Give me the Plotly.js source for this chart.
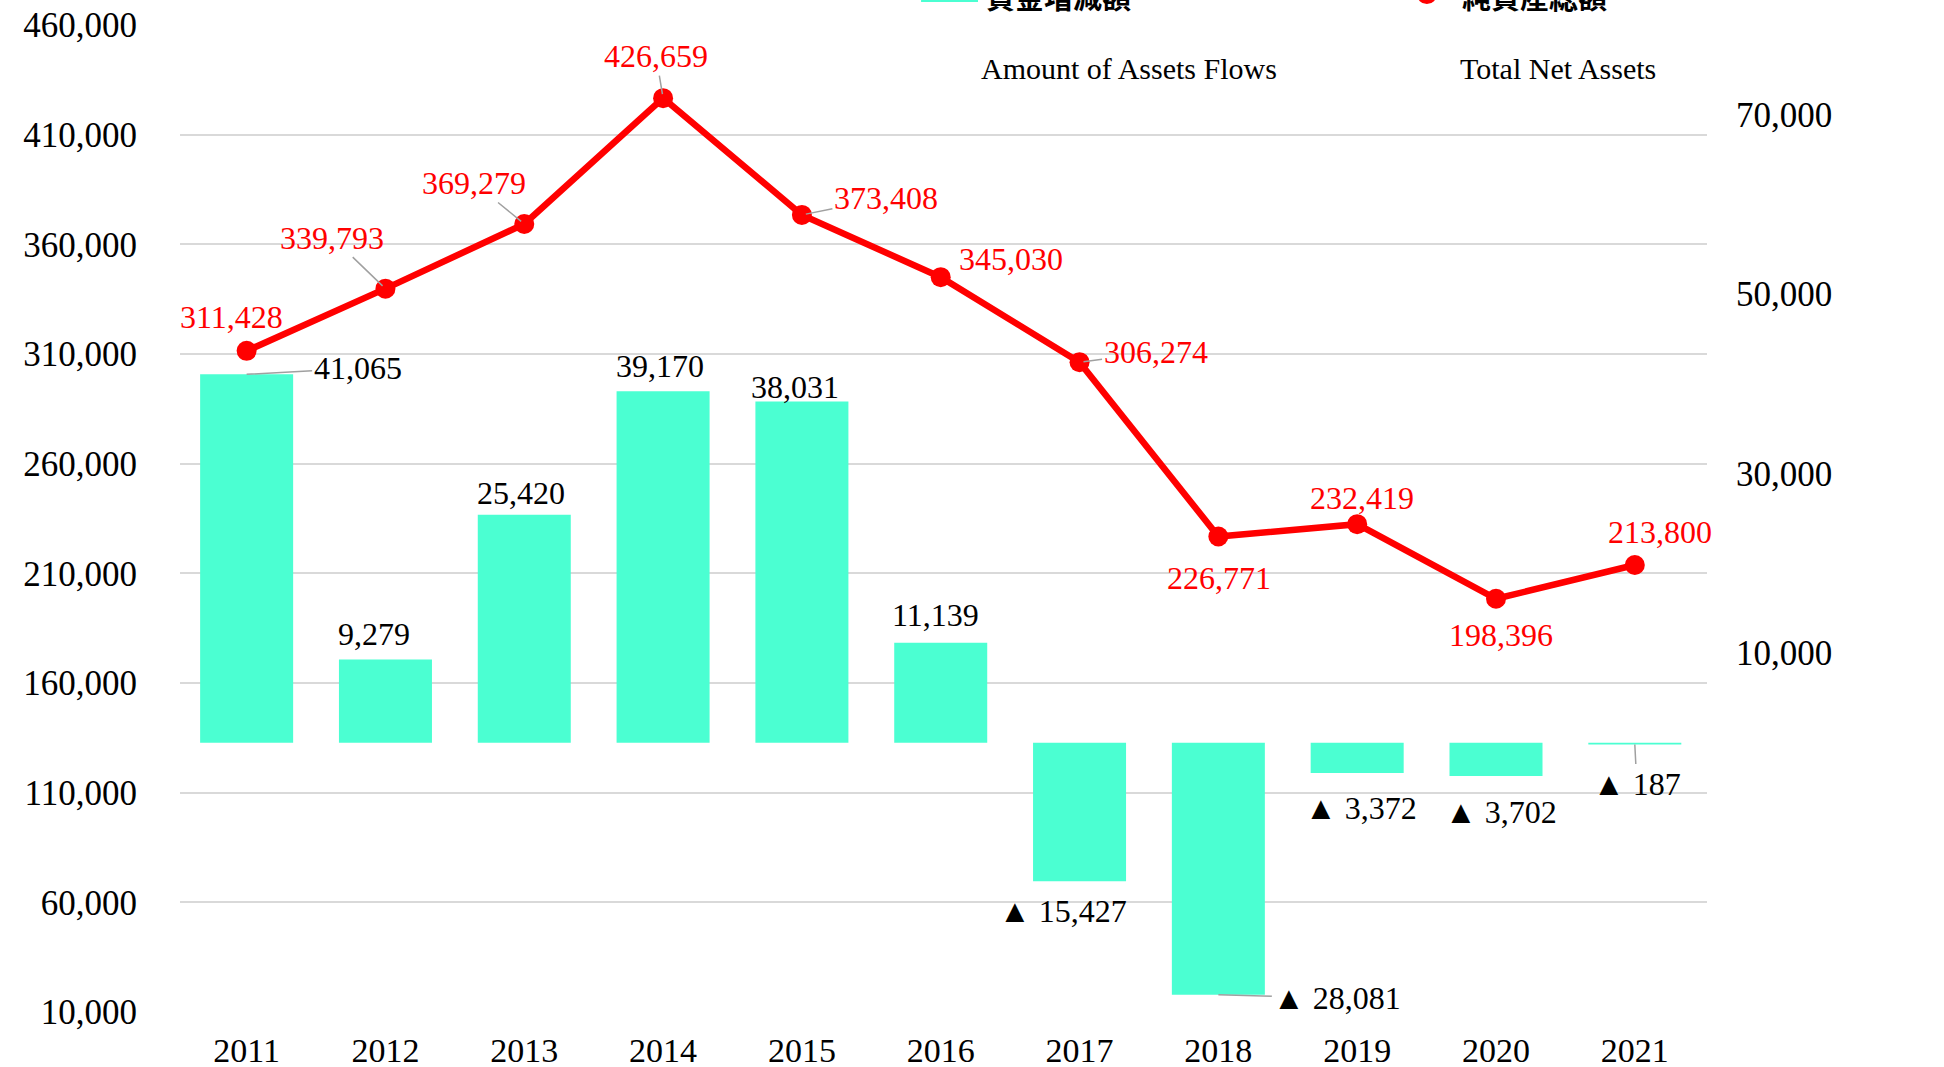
<!DOCTYPE html>
<html>
<head>
<meta charset="utf-8">
<script src="https://cdn.plot.ly/plotly-3.0.1.min.js"></script>
<style>
  html, body { margin: 0; padding: 0; background: #ffffff; overflow: hidden; }
  #chart { width: 1944px; height: 1067px; }
</style>
</head>
<body>
<div id="chart"></div>
<script>
// ---- data ----
const years = ['2011','2012','2013','2014','2015','2016','2017','2018','2019','2020','2021'];
const assetFlows = [41065, 9279, 25420, 39170, 38031, 11139, -15427, -28081, -3372, -3702, -187];
const totalNetAssets = [311428, 339793, 369279, 426659, 373408, 345030, 306274, 226771, 232419, 198396, 213800];
const leftTicks = [10000, 60000, 110000, 160000, 210000, 260000, 310000, 360000, 410000, 460000];
const rightTicks = [10000, 30000, 50000, 70000];
const seriesNamesJa = ['資金増減額', '純資産総額'];
const seriesNamesEn = ['Amount of Assets Flows', 'Total Net Assets'];

// ---- style / label placement (pixel offsets: dx, dy(down), leader line) ----
const lineLabelOffsets = [[-15,-34,0],[-53,-51,1],[-50,-41,1],[-7,-42,1],[84,-17,1],[70,-18,0],[76,-10,1],[1,41,0],[5,-26,0],[5,36,0],[25,-33,0]];
const barLabelOffsets  = [[111,-6,1],[-11,-26,0],[-3,-22,0],[-3,-25,0],[-7,-15,0],[-5,-28,0],[-17,30,0],[119,3,1],[4,35,0],[5,36,0],[2,39,1]];

const SERIF = '"Liberation Serif", "Times New Roman", serif';
const CJK = '"Noto Sans CJK JP", "Noto Sans CJK SC", sans-serif';
const TEAL = '#4BFFD2';
const RED = '#FF0000';
const TICKSIZE = 35;
const LABELSIZE = 32;

const fmt = v => Math.abs(v).toLocaleString('en-US');
const barText = v => (v < 0 ? '▲ ' : '') + fmt(v);

const barTrace = {
  type: 'bar', x: years, y: assetFlows, yaxis: 'y2', name: seriesNamesJa[0],
  marker: { color: TEAL }, hoverinfo: 'x+y', showlegend: false
};
const lineTrace = {
  type: 'scatter', mode: 'lines+markers', x: years, y: totalNetAssets, yaxis: 'y',
  name: seriesNamesJa[1], line: { color: RED, width: 6.5 },
  marker: { color: RED, size: 20 }, showlegend: false
};

const annotations = [];
years.forEach((yr, i) => {
  const [dx, dy, lead] = lineLabelOffsets[i];
  const a = { x: i, y: totalNetAssets[i], xref: 'x', yref: 'y', text: fmt(totalNetAssets[i]),
    font: { family: SERIF, size: LABELSIZE, color: RED } };
  if (lead) { Object.assign(a, { showarrow: true, ax: dx, ay: dy, arrowhead: 0, arrowwidth: 1.5, arrowcolor: '#a0a0a0', standoff: 4 }); }
  else { Object.assign(a, { showarrow: false, xshift: dx, yshift: -dy }); }
  annotations.push(a);
});
years.forEach((yr, i) => {
  const [dx, dy, lead] = barLabelOffsets[i];
  const a = { x: i, y: assetFlows[i], xref: 'x', yref: 'y2', text: barText(assetFlows[i]),
    font: { family: SERIF, size: LABELSIZE, color: '#000000' } };
  if (lead) { Object.assign(a, { showarrow: true, ax: dx, ay: dy, arrowhead: 0, arrowwidth: 1.5, arrowcolor: '#a0a0a0', standoff: 0 }); }
  else { Object.assign(a, { showarrow: false, xshift: dx, yshift: -dy }); }
  annotations.push(a);
});
// legend texts (partly cut off at top) and English subtitles
annotations.push({ xref: 'paper', yref: 'paper', x: 0.575, y: 1.0294, text: seriesNamesJa[0], showarrow: false,
  xanchor: 'center', yanchor: 'middle', font: { family: CJK, size: 29, color: '#000', weight: 700 } });
annotations.push({ xref: 'paper', yref: 'paper', x: 0.887, y: 1.0294, text: seriesNamesJa[1], showarrow: false,
  xanchor: 'center', yanchor: 'middle', font: { family: CJK, size: 29, color: '#000', weight: 700 } });
annotations.push({ xref: 'paper', yref: 'paper', x: 0.6215, y: 0.9564, text: seriesNamesEn[0], showarrow: false,
  xanchor: 'center', yanchor: 'middle', font: { family: SERIF, size: 30, color: '#000' } });
annotations.push({ xref: 'paper', yref: 'paper', x: 0.9024, y: 0.9564, text: seriesNamesEn[1], showarrow: false,
  xanchor: 'center', yanchor: 'middle', font: { family: SERIF, size: 30, color: '#000' } });

const shapes = [
  { type: 'rect', xref: 'paper', yref: 'paper', x0: 0.4853, x1: 0.5226, y0: 1.0233, y1: 1.0375,
    fillcolor: TEAL, line: { width: 0 }, layer: 'above' },
  { type: 'circle', xref: 'paper', yref: 'paper', x0: 0.8100, x1: 0.8231, y0: 1.0212, y1: 1.0415,
    fillcolor: RED, line: { width: 0 }, layer: 'above' }
];

const layout = {
  width: 1944, height: 1067,
  margin: { l: 180, r: 237, t: 25, b: 55, pad: 0 },
  paper_bgcolor: '#ffffff', plot_bgcolor: '#ffffff',
  showlegend: false,
  bargap: 0.33,
  font: { family: SERIF, size: TICKSIZE, color: '#000000' },
  xaxis: {
    type: 'category', range: [-0.48, 10.52], showgrid: false, zeroline: false, showline: false,
    ticks: '', ticklabelstandoff: 15, tickfont: { family: SERIF, size: 34, color: '#000' }
  },
  yaxis: {
    range: [10000, 460000], tickvals: leftTicks, ticktext: leftTicks.map(v => v.toLocaleString('en-US')),
    showgrid: true, gridcolor: '#d9d9d9', gridwidth: 2, zeroline: false, showline: false,
    ticks: '', ticklabelstandoff: 42, tickfont: { family: SERIF, size: TICKSIZE, color: '#000' }
  },
  yaxis2: {
    overlaying: 'y', side: 'right', range: [-30000, 80000],
    tickvals: rightTicks, ticktext: rightTicks.map(v => v.toLocaleString('en-US')),
    showgrid: false, zeroline: false, showline: false,
    ticks: '', ticklabelstandoff: 28, tickfont: { family: SERIF, size: TICKSIZE, color: '#000' }
  },
  annotations: annotations,
  shapes: shapes
};

Plotly.newPlot('chart', [barTrace, lineTrace], layout, { displayModeBar: false, staticPlot: true });
</script>
</body>
</html>
